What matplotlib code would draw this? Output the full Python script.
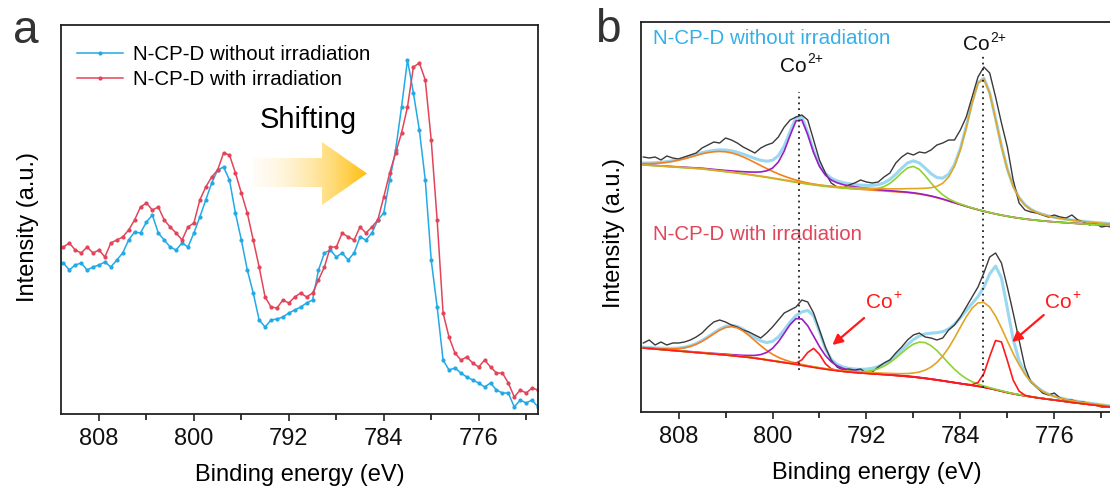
import numpy as np
import matplotlib
matplotlib.use("Agg")
import matplotlib.pyplot as plt
from matplotlib.patches import Polygon

plt.rcParams["font.family"] = ["Liberation Sans", "DejaVu Sans"]

# binding energy grid (eV), 811 -> 771 in 0.5 eV steps
energy = np.arange(811.0, 770.75, -0.5)

# ---- panel a: raw Co 2p spectra (a.u.) ----
a_without = [151, 144, 149, 151, 144, 147, 149, 152, 147, 154,
             161, 174, 182, 181, 192, 199, 181, 174, 167, 164,
             171, 167, 181, 197, 214, 231, 244, 247, 234, 201,
             174, 144, 121, 94, 87, 94, 95, 97, 101, 104,
             107, 111, 114, 144, 161, 164, 157, 161, 154, 161,
             177, 174, 181, 194, 201, 234, 264, 307, 354, 321,
             284, 234, 154, 107, 54, 44, 46, 41, 37, 34,
             31, 27, 31, 24, 21, 21, 7, 14, 11, 14,
             7]
a_with = [167, 171, 164, 161, 167, 161, 164, 157, 171, 174,
          177, 184, 194, 207, 211, 204, 207, 194, 187, 181,
          174, 187, 191, 214, 227, 237, 244, 261, 259, 241,
          221, 201, 174, 147, 117, 107, 106, 114, 111, 117,
          121, 117, 121, 134, 147, 167, 167, 181, 177, 174,
          187, 181, 187, 194, 217, 241, 261, 281, 307, 347,
          351, 334, 274, 194, 101, 77, 61, 54, 57, 51,
          47, 54, 47, 41, 41, 31, 17, 24, 21, 26,
          24]

# ---- panel b: measured spectra, backgrounds and fitted peaks ----
b_without = [255, 254, 255, 252, 256, 254, 253, 255, 257, 259,
             264, 267, 270, 269, 274, 272, 269, 265, 262, 259,
             264, 267, 269, 275, 285, 292, 295, 297, 292, 272,
             252, 239, 229, 225, 224, 227, 229, 232, 230, 229,
             230, 235, 239, 249, 255, 259, 257, 260, 259, 262,
             267, 269, 272, 272, 282, 295, 315, 335, 345, 339,
             315, 289, 265, 232, 209, 202, 200, 199, 197, 195,
             197, 195, 194, 197, 192, 190, 187, 189, 185, 186,
             184]
b_with = [69, 72, 67, 70, 67, 69, 69, 70, 72, 75,
          79, 85, 90, 92, 90, 87, 85, 82, 80, 77,
          74, 79, 85, 92, 99, 102, 105, 112, 110, 99,
          82, 65, 52, 45, 42, 43, 42, 43, 39, 40,
          45, 49, 52, 59, 65, 72, 77, 79, 75, 74,
          72, 74, 82, 87, 95, 105, 115, 125, 139, 155,
          159, 149, 125, 99, 72, 45, 30, 25, 19, 17,
          19, 14, 12, 12, 10, 10, 8, 7, 5, 5,
          4]
bg_without = [247.0, 246.6, 246.2, 245.8, 245.4, 245.0, 244.6, 244.2, 243.8, 243.4,
              243.0, 242.3, 241.6, 240.9, 240.2, 239.5, 238.8, 238.0, 237.2, 236.3,
              235.4, 234.5, 233.5, 232.5, 231.5, 230.5, 229.5, 228.6, 227.7, 226.9,
              226.1, 225.4, 224.8, 224.2, 223.7, 223.2, 222.8, 222.4, 222.0, 221.6,
              221.2, 220.8, 220.4, 220.0, 219.6, 219.2, 218.6, 217.8, 216.8, 215.6,
              214.2, 212.6, 210.8, 209.0, 207.2, 205.4, 203.7, 202.1, 200.6, 199.2,
              197.9, 196.7, 195.6, 194.6, 193.7, 192.9, 192.2, 191.6, 191.0, 190.5,
              190.0, 189.6, 189.2, 188.8, 188.4, 188.0, 187.7, 187.4, 187.1, 186.8,
              186.5]
bg_with = [64.0, 63.5, 63.0, 62.5, 62.0, 61.5, 61.0, 60.5, 60.0, 59.5,
           59.0, 58.5, 58.0, 57.5, 57.0, 56.4, 55.8, 55.2, 54.6, 53.8,
           53.0, 52.1, 51.2, 50.3, 49.4, 48.5, 47.6, 46.6, 45.6, 44.6,
           43.7, 42.8, 42.0, 41.3, 40.6, 40.0, 39.5, 39.0, 38.6, 38.2,
           37.8, 37.4, 37.0, 36.5, 36.0, 35.5, 35.0, 34.3, 33.6, 32.8,
           32.0, 31.1, 30.2, 29.3, 28.4, 27.5, 26.6, 25.7, 24.7, 23.5,
           22.2, 20.8, 19.4, 18.2, 17.1, 16.1, 15.2, 14.3, 13.5, 12.7,
           12.0, 11.2, 10.4, 9.6, 8.9, 8.2, 7.5, 6.8, 6.1, 5.4,
           4.8]

# fitted peaks: (centre eV, height, FWHM eV, Lorentzian fraction, colour)
peaks_without = [
    (804.0, 20, 6.5, 0.2, "#F57F1F"),
    (797.7, 65, 2.4, 0.6, "#9A1EC4"),
    (788.0, 27, 3.0, 0.2, "#8ED330"),
    (782.1, 133, 3.3, 0.5, "#E2A526"),
]
peaks_with = [
    (803.4, 29, 4.5, 0.2, "#F57F1F"),
    (797.7, 47, 3.2, 0.3, "#9A1EC4"),
    (796.5, 19, 1.5, 0.0, "#FF1A1A"),
    (787.2, 36, 4.5, 0.1, "#8ED330"),
    (782.1, 85, 5.0, 0.2, "#E2A526"),
    (780.75, 52, 1.8, 0.0, "#FF1A1A"),
]
co2_lines = [797.75, 782.1]

BLUE = "#22A9E6"
RED = "#E2455A"
LABEL_BLUE = "#34B0E8"
LABEL_RED = "#E0455A"
FS = 17


def pseudo_voigt(x, c, h, w, eta):
    g = np.exp(-4 * np.log(2) * ((x - c) / w) ** 2)
    lor = 1.0 / (1.0 + 4 * ((x - c) / w) ** 2)
    return h * (eta * lor + (1 - eta) * g)


def style_axes(ax, ylim):
    ax.set_xlim(811.2, 771)
    ax.set_ylim(*ylim)
    ax.set_xticks([808, 800, 792, 784, 776])
    ax.set_xticks([804, 796, 788, 780, 772], minor=True)
    ax.set_yticks([])
    ax.tick_params(axis="x", which="major", direction="out", length=5, width=1.1,
                   labelsize=FS, pad=5, colors="#111111")
    ax.tick_params(axis="x", which="minor", direction="out", length=4, width=1.1)
    for sp in ax.spines.values():
        sp.set_linewidth(1.3)
        sp.set_color("#222222")
    ax.set_xlabel("Binding energy (eV)", fontsize=FS)
    ax.set_ylabel("Intensity (a.u.)", fontsize=FS)


def co_label(ax, x_right, y, sup, color):
    # "Co" with a small raised charge written right after it
    t = ax.text(x_right, y, "Co", fontsize=15, color=color, ha="right", va="center")
    ax.annotate(sup, xy=(1.0, 0.5), xycoords=t, xytext=(0.5, 0), textcoords="offset points",
                fontsize=10, color=color, ha="left", va="bottom")


fig = plt.figure(figsize=(11.1, 4.93), dpi=100)
ax_a = fig.add_axes([61 / 1110, 79 / 493, 477 / 1110, 389 / 493])
ax_b = fig.add_axes([641 / 1110, 81 / 493, 472 / 1110, 390 / 493])

# ---- panel a ----
ax_a.plot(energy, a_without, color=BLUE, lw=1.1, marker="o", ms=2.0,
          label="N-CP-D without irradiation")
ax_a.plot(energy, a_with, color=RED, lw=1.1, marker="o", ms=2.0,
          label="N-CP-D with irradiation")
style_axes(ax_a, (0, 389))
ax_a.xaxis.set_label_coords(0.5, -0.128)
ax_a.yaxis.set_label_coords(-0.047, 0.48)
ax_a.legend(loc="upper left", bbox_to_anchor=(0.0, 0.99), frameon=False,
            fontsize=14.8, handlelength=2.2, handletextpad=0.5,
            labelspacing=0.28, numpoints=1, borderaxespad=0.4)
ax_a.text(790.4, 286, "Shifting", fontsize=21, ha="center", va="baseline")

# ---- panel b ----
for data, bg, peaks in [(b_without, bg_without, peaks_without),
                        (b_with, bg_with, peaks_with)]:
    bg = np.array(bg)
    envelope = bg + sum(pseudo_voigt(energy, c, h, w, eta) for c, h, w, eta, _ in peaks)
    ax_b.plot(energy, envelope, color="#9AD8F2", lw=2.2, zorder=2)
    ax_b.plot(energy, data, color="#3A3A3A", lw=1.0, zorder=3)
    for c, h, w, eta, col in peaks:
        ax_b.plot(energy, bg + pseudo_voigt(energy, c, h, w, eta), color=col,
                  lw=1.2, zorder=4)

ax_b.vlines(co2_lines[0], 42, 320, colors="#222222", linestyles=(0, (1, 2.2)), lw=1.3, zorder=5)
ax_b.vlines(co2_lines[1], 24, 357, colors="#222222", linestyles=(0, (1, 2.2)), lw=1.3, zorder=5)
style_axes(ax_b, (0, 390))
ax_b.xaxis.set_label_coords(0.5, -0.128)
ax_b.yaxis.set_label_coords(-0.034, 0.46)

ax_b.text(810.15, 373.5, "N-CP-D without irradiation", color=LABEL_BLUE,
          fontsize=14.8, ha="left", va="center")
ax_b.text(810.15, 177.5, "N-CP-D with irradiation", color=LABEL_RED,
          fontsize=14.8, ha="left", va="center")
co_label(ax_b, 797.6 - 0.5, 346, "2+", "#111111")
co_label(ax_b, 782.0 - 0.5, 367, "2+", "#111111")
co_label(ax_b, 790.6 - 0.8, 110, "+", "#FF1A1A")
co_label(ax_b, 775.3 - 0.8, 110, "+", "#FF1A1A")
for (x0, y0), (x1, y1) in [((792.2, 94), (794.9, 67)), ((776.9, 97), (779.6, 70))]:
    ax_b.annotate("", xy=(x1, y1), xytext=(x0, y0),
                  arrowprops=dict(arrowstyle="-|>", color="#FF1A1A", lw=1.6,
                                  mutation_scale=15, shrinkA=0, shrinkB=0))

# ---- overlay: panel letters and gradient arrow ----
ov = fig.add_axes([0, 0, 1, 1], zorder=10)
ov.set_xlim(0, 1110)
ov.set_ylim(493, 0)
ov.axis("off")
ov.patch.set_alpha(0)
ov.text(13, 43, "a", fontsize=33, color="#333333", ha="left", va="baseline")
ov.text(595, 42, "b", fontsize=33, color="#333333", ha="left", va="baseline")

arrow_shape = [(253, 158), (322, 158), (322, 142), (367, 173.5), (322, 205),
               (322, 187), (253, 187)]
t = np.linspace(0, 1, 256)[None, :]
grad = np.zeros((1, 256, 4))
grad[..., 0] = 1.0
grad[..., 1] = 0.97 - 0.22 * t
grad[..., 2] = 0.90 - 0.85 * t
grad[..., 3] = 0.25 + 0.75 * t
img = ov.imshow(grad, extent=(253, 367, 205, 142), aspect="auto", zorder=1)
clip = Polygon(arrow_shape, closed=True, transform=ov.transData, fc="none", ec="none")
ov.add_patch(clip)
img.set_clip_path(clip)
ov.set_xlim(0, 1110)
ov.set_ylim(493, 0)

fig.savefig("out.png", dpi=100)
